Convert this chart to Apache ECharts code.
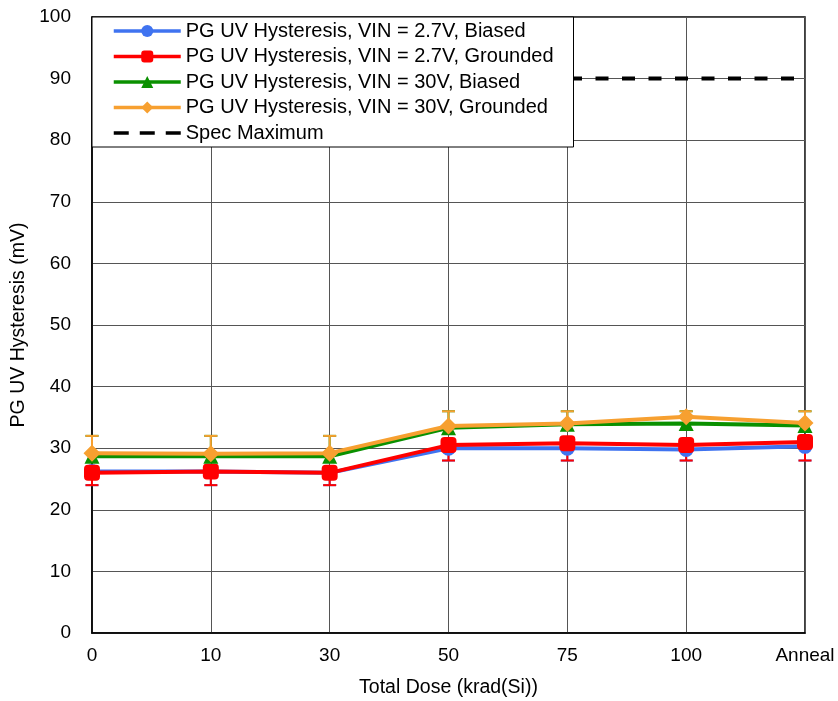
<!DOCTYPE html>
<html>
<head>
<meta charset="utf-8">
<script src="https://cdn.jsdelivr.net/npm/echarts@6/dist/echarts.min.js"></script>
<style>
  html, body { margin: 0; padding: 0; background: #fff; }
  #chart { width: 838px; height: 701px; }
</style>
</head>
<body>
<div id="chart"></div>
<script>
// categories on the x axis
var doses = ['0', '10', '30', '50', '75', '100', 'Anneal']

// hysteresis readings (mV)
var vin27Biased = [26.2, 26.2, 26.0, 30.0, 30.0, 29.8, 30.3]
var vin27Grounded = [26.0, 26.2, 26.0, 30.5, 30.8, 30.5, 31.0]
var vin30Biased = [28.7, 28.7, 28.7, 33.3, 33.9, 34.0, 33.7]
var vin30Grounded = [29.2, 29.1, 29.2, 33.6, 34.0, 35.1, 34.1]
var specMax = [90, 90, 90, 90, 90, 90, 90]

// error bar ends
var err27Low = [24, 24, 24, 28, 28, 28, 28]
var err30High = [32, 32, 32, 36, 36, 36, 36]

var blue = '#3f73f0'
var red = '#ff0000'
var green = '#0a9000'
var orange = '#f7a030'
var font = 'Liberation Sans, Arial, sans-serif'

// three dashes for the spec legend entry (tiny corner dots keep the 67x15 box)
var dashIcon = 'path://M0,0h0.05v0.05h-0.05z M66.95,14.95h0.05v0.05h-0.05z ' +
  'M0,5.7h15v3.6h-15z M26,5.7h15v3.6h-15z M52,5.7h15v3.6h-15z'

function errorSeries(vals, ends, color) {
  var data = vals.map(function (v, i) { return [i, v, ends[i]] })
  return {
    type: 'custom',
    silent: true,
    z: 1,
    data: data,
    renderItem: function (params, api) {
      var a = api.coord([api.value(0), api.value(1)])
      var b = api.coord([api.value(0), api.value(2)])
      var style = { stroke: color, lineWidth: 2 }
      return {
        type: 'group',
        children: [
          { type: 'line', shape: { x1: a[0], y1: a[1], x2: b[0], y2: b[1] }, style: style },
          { type: 'line', shape: { x1: b[0] - 6.5, y1: b[1], x2: b[0] + 6.5, y2: b[1] }, style: style }
        ]
      }
    }
  }
}

function dataSeries(name, vals, color, symbol, size) {
  return {
    name: name,
    type: 'line',
    data: vals,
    z: 3,
    symbol: symbol,
    symbolSize: size,
    lineStyle: { color: color, width: 4 },
    itemStyle: { color: color },
    emphasis: { disabled: true }
  }
}

var chartDom = document.getElementById('chart')
var myChart = echarts.init(chartDom)

var option = {
  animation: false,
  textStyle: { fontFamily: font, color: '#000' },
  grid: { left: 92, right: 33, top: 17, bottom: 68, outerBoundsMode: 'none', containLabel: false },
  legend: {
    orient: 'vertical',
    left: 92,
    top: 17,
    backgroundColor: '#fff',
    borderColor: '#000',
    borderWidth: 1,
    borderRadius: 0,
    padding: [4, 20, 4, 20],
    itemWidth: 67,
    itemHeight: 15,
    itemGap: 5.5,
    lineStyle: { width: 3.5 },
    textStyle: { fontSize: 20, color: '#000', fontFamily: font },
    data: [
      'PG UV Hysteresis, VIN = 2.7V, Biased',
      'PG UV Hysteresis, VIN = 2.7V, Grounded',
      'PG UV Hysteresis, VIN = 30V, Biased',
      'PG UV Hysteresis, VIN = 30V, Grounded',
      { name: 'Spec Maximum', icon: dashIcon }
    ],
    z: 10
  },
  xAxis: {
    type: 'category',
    data: doses,
    boundaryGap: false,
    name: 'Total Dose (krad(Si))',
    nameLocation: 'middle',
    nameGap: 45,
    nameTextStyle: { fontSize: 19.5, color: '#000' },
    axisLine: { lineStyle: { color: '#000', width: 1.5 } },
    axisTick: { show: false },
    axisLabel: { fontSize: 19, color: '#000', margin: 13 },
    splitLine: { show: true, lineStyle: { color: '#555', width: 1 } }
  },
  yAxis: {
    type: 'value',
    min: 0,
    max: 100,
    interval: 10,
    name: 'PG UV Hysteresis (mV)',
    nameLocation: 'middle',
    nameGap: 58,
    nameTextStyle: { fontSize: 19.5, color: '#000' },
    axisLine: { show: true, lineStyle: { color: '#000', width: 1.5 } },
    axisTick: { show: false },
    axisLabel: { fontSize: 19, color: '#000', margin: 21 },
    splitLine: { show: true, lineStyle: { color: '#555', width: 1 } }
  },
  series: [
    errorSeries(vin27Biased, err27Low, blue),
    errorSeries(vin27Grounded, err27Low, red),
    errorSeries(vin30Biased, err30High, green),
    errorSeries(vin30Grounded, err30High, orange),
    dataSeries('PG UV Hysteresis, VIN = 2.7V, Biased', vin27Biased, blue, 'circle', 15),
    dataSeries('PG UV Hysteresis, VIN = 2.7V, Grounded', vin27Grounded, red, 'roundRect', 16),
    dataSeries('PG UV Hysteresis, VIN = 30V, Biased', vin30Biased, green, 'triangle', 15),
    dataSeries('PG UV Hysteresis, VIN = 30V, Grounded', vin30Grounded, orange, 'diamond', 17),
    {
      name: 'Spec Maximum',
      type: 'line',
      data: specMax,
      symbol: 'none',
      z: 2,
      lineStyle: { color: '#000', width: 4, type: [13, 13.5] },
      itemStyle: { color: '#000' }
    }
  ],
  // frame round the plot area
  graphic: [{
    type: 'rect',
    shape: { x: 92, y: 17, width: 838 - 92 - 33, height: 701 - 17 - 68 },
    style: { fill: 'none', stroke: '#000', lineWidth: 1.5 },
    silent: true,
    z: 0
  }]
}

option && myChart.setOption(option)
</script>
</body>
</html>
